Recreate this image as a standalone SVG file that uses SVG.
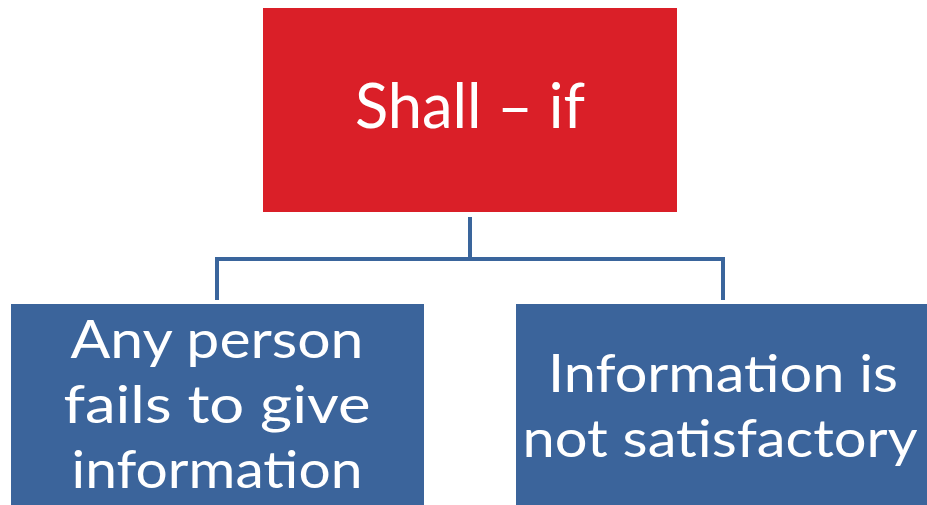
<svg xmlns="http://www.w3.org/2000/svg" width="927" height="505" viewBox="0 0 927 505">
  <style>
    .root { fill: #DA1F28; }
    .leaf { fill: #3B649B; }
    .label { fill: #FFFFFF; font-family: Lato, "Open Sans", "Liberation Sans", sans-serif; text-anchor: middle; }
    .big { font-size: 62px; }
    .small { font-size: 53px; }
    .wire { fill: none; stroke: #3A659C; stroke-width: 4; stroke-linejoin: miter; }
  </style>
  <rect width="927" height="505" fill="#FFFFFF"/>

  <g id="connectors">
    <path class="wire" d="M470 217 V259"/>
    <path class="wire" d="M217 300 V259 H723 V300"/>
  </g>

  <g id="node-shall-if">
    <rect class="root" x="263" y="8" width="414" height="204"/>
    <text class="label big" x="470" y="128" textLength="230" lengthAdjust="spacingAndGlyphs">Shall – if</text>
  </g>

  <g id="node-fails-to-give">
    <rect class="leaf" x="11" y="304" width="413" height="201"/>
    <text class="label small" x="217" y="358" textLength="293" lengthAdjust="spacingAndGlyphs">Any person</text>
    <text class="label small" x="217" y="423" textLength="307" lengthAdjust="spacingAndGlyphs">fails to give</text>
    <text class="label small" x="217" y="488" textLength="291" lengthAdjust="spacingAndGlyphs">information</text>
  </g>

  <g id="node-not-satisfactory">
    <rect class="leaf" x="516" y="304" width="411" height="201"/>
    <text class="label small" x="723" y="392" textLength="350" lengthAdjust="spacingAndGlyphs">Information is</text>
    <text class="label small" x="720" y="457" textLength="395" lengthAdjust="spacingAndGlyphs">not satisfactory</text>
  </g>
</svg>
